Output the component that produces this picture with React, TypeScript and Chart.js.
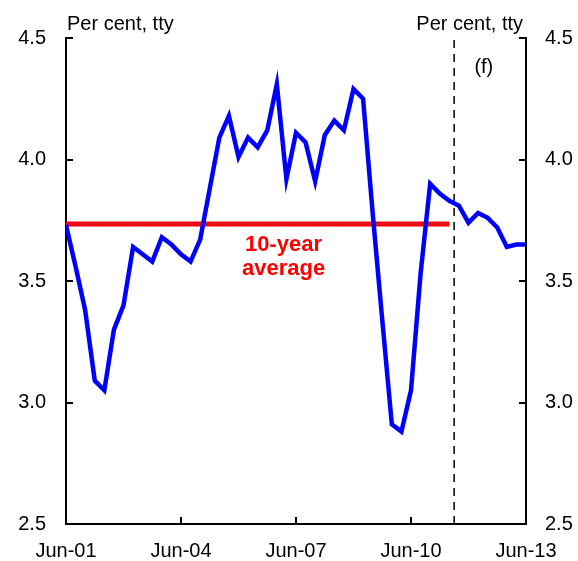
import React, { useEffect, useRef } from 'react';
import { Chart, registerables } from 'chart.js';

Chart.register(...registerables);

// Quarterly observations, Jun-01 (index 0) to Jun-13 (index 48)
const xTickLabels = ['Jun-01', 'Jun-04', 'Jun-07', 'Jun-10', 'Jun-13'];
const quartersPerTick = 12;
const rateValues = [
  3.73, 3.56, 3.38, 3.09, 3.05, 3.30, 3.40, 3.64, 3.61, 3.58,
  3.68, 3.65, 3.61, 3.58, 3.67, 3.88, 4.09, 4.18, 4.01, 4.09,
  4.05, 4.12, 4.31, 3.92, 4.11, 4.07, 3.91, 4.10, 4.16, 4.12,
  4.29, 4.25, 3.78, 3.34, 2.91, 2.88, 3.05, 3.53, 3.90, 3.86,
  3.83, 3.81, 3.74, 3.78, 3.76, 3.72, 3.64, 3.65, 3.65,
];
const tenYearAverage = 3.735;
const averageSpan = [0, 40];
const forecastStart = 40.5;
const yMin = 2.5;
const yMax = 4.5;
const yStep = 0.5;
const unitLabel = 'Per cent, tty';
const forecastLabel = '(f)';
const averageLabel = ['10-year', 'average'];

const FONT = '"Liberation Sans", Arial, sans-serif';

const decorPlugin = {
  id: 'decor',
  afterDraw(chart: any) {
    const { ctx, chartArea, scales } = chart;
    const x = scales.x;
    const y = scales.y;
    ctx.save();
    ctx.strokeStyle = '#000';
    ctx.lineWidth = 2;
    const tick = 7;
    // inward ticks on y axes
    for (let v = yMin + yStep; v <= yMax + 1e-9; v += yStep) {
      const py = Math.round(y.getPixelForValue(v));
      ctx.beginPath();
      ctx.moveTo(chartArea.left, py);
      ctx.lineTo(chartArea.left + tick, py);
      ctx.moveTo(chartArea.right, py);
      ctx.lineTo(chartArea.right - tick, py);
      ctx.stroke();
    }
    // inward ticks on x axis
    for (let i = 1; i < xTickLabels.length - 1; i++) {
      const px = Math.round(x.getPixelForValue(i * quartersPerTick));
      ctx.beginPath();
      ctx.moveTo(px, chartArea.bottom);
      ctx.lineTo(px, chartArea.bottom - tick);
      ctx.stroke();
    }
    // unit labels
    ctx.fillStyle = '#000';
    ctx.font = `20px ${FONT}`;
    ctx.textBaseline = 'alphabetic';
    ctx.textAlign = 'left';
    ctx.fillText(unitLabel, chartArea.left + 1, 30);
    ctx.textAlign = 'right';
    ctx.fillText(unitLabel, chartArea.right - 3, 30);
    // forecast label
    ctx.textAlign = 'center';
    ctx.textBaseline = 'middle';
    ctx.fillText(forecastLabel, x.getPixelForValue(43.6), y.getPixelForValue(4.377));
    // average label
    ctx.fillStyle = '#ff0000';
    ctx.font = `bold 22px ${FONT}`;
    ctx.fillText(averageLabel[0], x.getPixelForValue(22.7), y.getPixelForValue(3.648));
    ctx.fillText(averageLabel[1], x.getPixelForValue(22.7), y.getPixelForValue(3.549));
    ctx.restore();
  },
};

export default function App() {
  const ref = useRef<HTMLCanvasElement>(null);
  useEffect(() => {
    document.body.style.margin = '0';
    const canvas = ref.current;
    if (!canvas) return;
    const chart = new Chart(canvas, {
      type: 'line',
      data: {
        datasets: [
          {
            label: 'average',
            data: averageSpan.map((v) => ({ x: v, y: tenYearAverage })),
            borderColor: '#ff0000',
            borderWidth: 5,
            pointRadius: 0,
            yAxisID: 'y',
            order: 2,
          },
          {
            label: 'average-dash',
            data: averageSpan.map((v) => ({ x: v, y: tenYearAverage })),
            borderColor: 'rgba(140,60,200,0.55)',
            borderWidth: 1,
            borderDash: [7, 5],
            pointRadius: 0,
            yAxisID: 'y',
            order: 1,
          },
          {
            label: 'forecast',
            data: [{ x: forecastStart, y: yMin }, { x: forecastStart, y: yMax }],
            borderColor: '#000',
            borderWidth: 1.5,
            borderDash: [8, 6],
            pointRadius: 0,
            yAxisID: 'y',
            order: 3,
          },
          {
            label: 'rate',
            data: rateValues.map((v, i) => ({ x: i, y: v })),
            borderColor: '#0000ff',
            borderWidth: 4.5,
            pointRadius: 0,
            tension: 0,
            borderJoinStyle: 'miter',
            yAxisID: 'y',
            order: 0,
          },
        ],
      },
      options: {
        animation: false,
        responsive: false,
        maintainAspectRatio: false,
        layout: { padding: { top: 38, left: 0, right: 0, bottom: 0 } },
        plugins: { legend: { display: false }, tooltip: { enabled: false } },
        scales: {
          x: {
            type: 'linear',
            min: 0,
            max: (xTickLabels.length - 1) * quartersPerTick,
            grid: { display: false, drawTicks: false },
            border: { display: true, color: '#000', width: 2 },
            afterFit: (s: any) => { s.height = 37; },
            ticks: {
              stepSize: quartersPerTick,
              autoSkip: false,
              maxRotation: 0,
              padding: 15,
              color: '#000',
              font: { family: FONT, size: 20 },
              callback: (v: any) => xTickLabels[Math.round(Number(v) / quartersPerTick)] ?? '',
            },
          },
          y: {
            position: 'left',
            min: yMin,
            max: yMax,
            grid: { display: false, drawTicks: false },
            border: { display: true, color: '#000', width: 2 },
            afterFit: (s: any) => { s.width = 66; },
            ticks: {
              stepSize: yStep,
              padding: 20,
              color: '#000',
              font: { family: FONT, size: 20 },
              callback: (v: any) => Number(v).toFixed(1),
            },
          },
          y2: {
            position: 'right',
            min: yMin,
            max: yMax,
            grid: { display: false, drawTicks: false },
            border: { display: true, color: '#000', width: 2 },
            afterFit: (s: any) => { s.width = 52; },
            ticks: {
              stepSize: yStep,
              padding: 19,
              color: '#000',
              font: { family: FONT, size: 20 },
              callback: (v: any) => Number(v).toFixed(1),
            },
          },
        },
      },
      plugins: [decorPlugin],
    } as any);
    return () => chart.destroy();
  }, []);
  return (
    <div style={{ position: 'absolute', left: 0, top: 0, width: 578, height: 561 }}>
      <canvas ref={ref} width={578} height={561} />
    </div>
  );
}
